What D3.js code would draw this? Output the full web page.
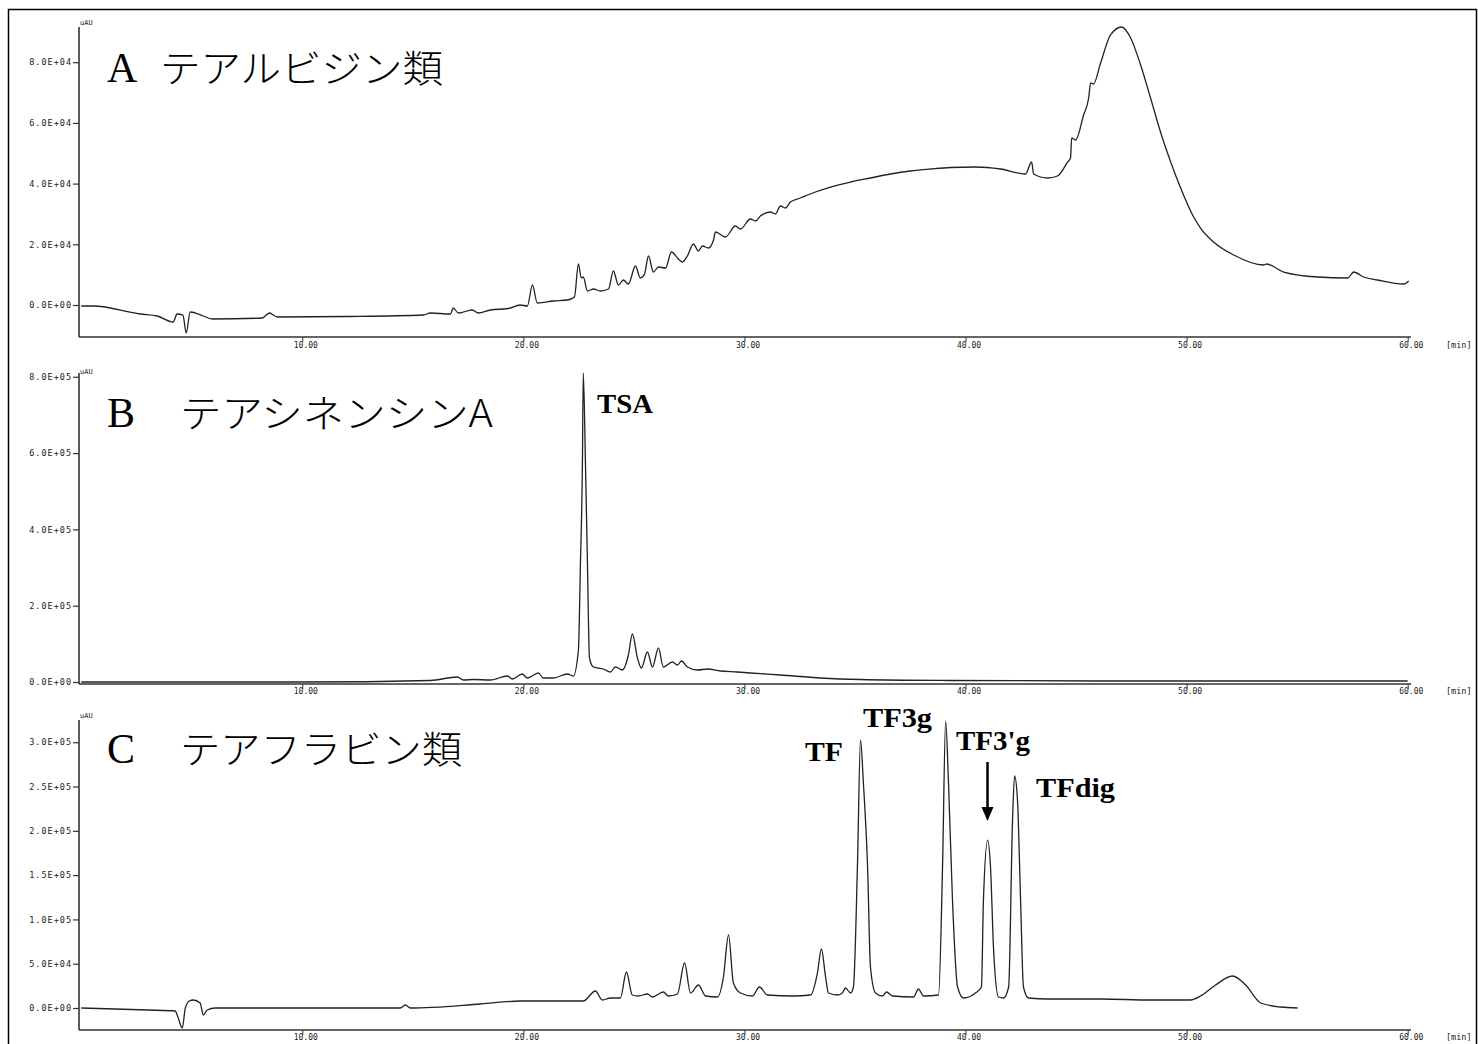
<!DOCTYPE html>
<html><head><meta charset="utf-8">
<script src="https://cdn.jsdelivr.net/npm/d3@7"></script>
<style>body{margin:0;background:#fff}</style>
</head><body>
<svg id="chart" width="1478" height="1044" xmlns="http://www.w3.org/2000/svg"></svg>
<script>
// ---------- DATA ----------
const xTicks = [10, 20, 30, 40, 50, 60];
const xTickLabels = ["10.00", "20.00", "30.00", "40.00", "50.00", "60.00"];
const yTicksA = [0, 20000, 40000, 60000, 80000];
const yTicksB = [0, 200000, 400000, 600000, 800000];
const yTicksC = [0, 50000, 100000, 150000, 200000, 250000, 300000];

const titleLetters = ["A", "B", "C"];
const titleTexts = ["テアルビジン類", "テアシネンシンA", "テアフラビン類"];

// Panel A: thearubigins (time in min, absorbance in uAU)
const timeA = [0.0,0.54,2.67,3.44,4.16,4.34,4.6,4.75,4.93,5.52,5.93,8.19,8.51,8.87,12.0,15.48,15.79,16.70,16.83,17.06,17.69,17.96,18.51,19.32,19.86,20.18,20.41,20.63,21.36,21.99,22.31,22.49,22.62,22.71,22.90,23.17,23.48,23.85,24.07,24.30,24.52,24.75,25.07,25.29,25.48,25.66,25.88,26.11,26.43,26.70,27.01,27.19,27.42,27.69,27.92,28.10,28.37,28.60,28.69,29.14,29.59,29.82,30.27,30.50,30.72,31.18,31.40,31.63,31.85,32.08,32.53,33.21,33.89,34.80,35.70,36.61,37.51,38.42,39.32,40.45,41.58,42.71,42.99,43.08,43.71,44.16,44.62,44.75,44.80,44.98,45.34,45.57,45.66,45.79,46.11,46.56,47.06,47.47,47.92,48.37,48.82,49.28,49.73,50.27,50.63,51.22,52.13,53.48,53.62,54.39,55.93,57.29,57.56,58.01,58.64,59.82,60.05];
const valueA = [-330,-330,-2965,-3625,-5600,-2965,-3300,-9226,-2306,-3625,-4615,-4285,-2636,-3955,-3790,-3300,-2636,-2965,-990,-2636,-1650,-2636,-1650,-1150,0,-330,6590,660,1320,1650,2640,13510,8900,9225,4610,5270,4610,5270,11200,6590,8240,6920,12850,8900,10200,16150,10870,12520,12190,17460,15160,14170,16150,20100,17790,19440,18780,21420,24050,22400,26030,25040,28340,27680,29330,30640,29990,32620,31960,33940,35260,37230,38880,40530,41850,43160,44150,44810,45310,45470,44810,43160,47120,43160,41850,42500,47120,48440,55030,54370,62600,68210,73150,72820,79740,88970,91600,87980,79080,68210,57000,47120,38550,29660,25370,20760,16480,13180,13510,10870,9230,8900,10870,9230,8240,6920,7910];

// Panel B: theasinensin A
const timeB = [0.0,5.38,10.0,15.79,17.01,17.29,17.74,18.51,19.28,19.50,19.95,20.18,20.68,20.90,21.36,21.99,22.26,22.49,22.58,22.67,22.71,22.81,22.90,22.99,23.17,23.62,23.94,24.16,24.48,24.75,24.93,25.16,25.34,25.61,25.84,26.11,26.33,26.74,26.97,27.15,27.42,27.87,28.33,28.91,29.68,30.27,31.63,33.44,35.25,39.32,46.11,60.0];
const valueB = [0,0,0,3930,13100,5240,6550,5240,15730,7860,20970,10480,23590,10480,10480,20970,15730,83870,306700,568800,809900,568800,306700,62900,39300,34070,26210,39300,31450,70770,125800,62900,36690,78630,39300,89110,39300,52420,44560,55040,39300,31450,34070,28830,26210,23590,18350,10480,6550,3930,2620,2620];

// Panel C: theaflavins
const timeC = [0.0,3.03,4.25,4.39,4.57,4.71,4.89,5.07,5.38,5.52,5.70,6.06,14.43,14.66,14.89,18.05,19.86,21.67,22.71,23.26,23.57,23.94,24.39,24.66,24.93,25.20,25.61,25.84,26.33,26.56,26.97,27.29,27.56,27.92,28.24,28.78,29.05,29.28,29.50,29.82,30.36,30.68,31.04,32.22,32.99,33.30,33.48,33.67,33.80,34.21,34.43,34.57,34.80,34.93,35.11,35.25,35.38,35.57,35.70,35.93,36.24,36.43,36.70,37.65,37.87,38.10,38.78,38.96,39.10,39.23,39.41,39.64,39.91,40.45,40.72,40.81,41.00,41.13,41.27,41.49,41.72,41.95,42.13,42.22,42.35,42.49,42.62,42.85,43.71,44.30,46.11,48.37,50.18,50.63,51.31,52.08,52.67,53.35,54.25,55.02];
const valueC = [0,-2257,-3386,-11290,-22570,0,7900,9030,5640,-7900,-2257,0,0,3386,0,4515,7900,7900,7900,19190,9030,11290,11290,40630,14670,13540,15800,12420,18060,13540,15800,50790,16930,25960,13540,12420,34990,82390,28220,16930,13540,23700,14670,13540,14670,39500,66590,34990,16930,14670,16930,22570,16930,23700,159100,302500,254000,159100,46280,16930,13540,18060,13540,12420,21450,13540,14670,159100,323900,254000,121900,23700,11290,16930,23700,121900,189600,159100,65460,12420,11290,23700,215600,261900,234800,121900,23700,11290,10160,10160,10160,9030,9030,13540,25960,36120,25960,5640,1130,0];

const peakLabelsB = ["TSA"];
const peakLabelsC = ["TF", "TF3g", "TF3'g", "TFdig"];

// ---------- DRAW ----------
const svg = d3.select("#chart");
const tickFont = "'DejaVu Sans Mono', monospace";
const ink = "#1a1a1a";

svg.append("rect").attr("x", 8.5).attr("y", 9.5).attr("width", 1468).attr("height", 1050)
  .attr("fill", "none").attr("stroke", "#000").attr("stroke-width", 1.5);

const x = d3.scaleLinear().domain([-0.1, 60.15]).range([79, 1411]);

function fmtE(v) {
  if (v === 0) return "0.0E+00";
  const e = Math.floor(Math.log10(Math.abs(v)) + 1e-9);
  const m = v / Math.pow(10, e);
  return m.toFixed(1) + "E+" + String(e).padStart(2, "0");
}

const panels = [
  {top: 27, bottom: 337, dom: [-10544, 91600], ticks: yTicksA, t: timeA, v: valueA, unitY: 25, labelY: 348},
  {top: 373, bottom: 684, dom: [-5243, 809900], ticks: yTicksB, t: timeB, v: valueB, unitY: 374, labelY: 694},
  {top: 720, bottom: 1030, dom: [-24830, 325100], ticks: yTicksC, t: timeC, v: valueC, unitY: 718, labelY: 1040}
];

panels.forEach((p, i) => {
  const y = d3.scaleLinear().domain(p.dom).range([p.bottom, p.top]);
  const g = svg.append("g");

  const ya = g.append("g").attr("transform", "translate(79,0)")
    .call(d3.axisLeft(y).tickValues(p.ticks).tickFormat(fmtE).tickSize(6).tickSizeOuter(0));
  ya.select(".domain").remove();
  ya.selectAll("line").attr("stroke", "#333").attr("stroke-width", 1.2);
  ya.selectAll("text").attr("font-family", tickFont).attr("font-size", 8.5)
    .attr("letter-spacing", "1px").attr("fill", ink).attr("x", -7).attr("dy", "0.32em");

  const xa = g.append("g").attr("transform", `translate(0,${p.bottom})`)
    .call(d3.axisBottom(x).tickValues(xTicks).tickFormat((d, j) => xTickLabels[j]).tickSize(5).tickSizeOuter(0));
  xa.select(".domain").remove();
  xa.selectAll("line").attr("stroke", "#333").attr("stroke-width", 1);
  xa.selectAll("text").attr("font-family", tickFont).attr("font-size", 8)
    .attr("fill", ink).attr("text-anchor", "start").attr("x", -9).attr("y", p.labelY - p.bottom).attr("dy", 0);

  g.append("line").attr("x1", 79).attr("x2", 79).attr("y1", p.top).attr("y2", p.bottom)
    .attr("stroke", "#333").attr("stroke-width", 1.6);
  g.append("line").attr("x1", 79).attr("x2", 1411).attr("y1", p.bottom).attr("y2", p.bottom)
    .attr("stroke", "#333").attr("stroke-width", 1.6);

  g.append("text").attr("x", 80).attr("y", p.unitY).text("uAU")
    .attr("font-family", tickFont).attr("font-size", 7).attr("fill", ink);
  g.append("text").attr("x", 1446).attr("y", p.labelY).text("[min]")
    .attr("font-family", tickFont).attr("font-size", 8.5).attr("fill", ink);

  const data = p.t.map((t, k) => [t, p.v[k]]);
  g.append("path").datum(data)
    .attr("fill", "none").attr("stroke", "#222").attr("stroke-width", 1.3)
    .attr("stroke-linejoin", "round")
    .attr("d", d3.line().x(d => x(d[0])).y(d => y(d[1])).curve(d3.curveMonotoneX));
});

// Titles
const titleCfg = [
  {lx: 107, ly: 82, jx: 160, jw: 283},
  {lx: 107, ly: 427, jx: 180, jw: 313},
  {lx: 107, ly: 763, jx: 180, jw: 282}
];
titleCfg.forEach((c, i) => {
  svg.append("text").attr("x", c.lx).attr("y", c.ly).text(titleLetters[i])
    .attr("font-family", "'Liberation Serif', serif").attr("font-size", 42).attr("fill", "#000");
  svg.append("text").attr("x", c.jx).attr("y", c.ly).text(titleTexts[i])
    .attr("font-family", "'Noto Sans CJK JP', sans-serif").attr("font-weight", 300)
    .attr("font-size", 38).attr("fill", "#000")
    .attr("textLength", c.jw).attr("lengthAdjust", "spacingAndGlyphs");
});

// Peak labels
const peakFont = "'Liberation Serif', serif";
const lblB = [{x: 597, y: 413, w: 56}];
const lblC = [{x: 805, y: 761, w: 38}, {x: 863, y: 727, w: 69}, {x: 956, y: 750, w: 74}, {x: 1036, y: 797, w: 79}];
peakLabelsB.forEach((s, i) => {
  svg.append("text").attr("x", lblB[i].x).attr("y", lblB[i].y).text(s)
    .attr("font-family", peakFont).attr("font-weight", "bold").attr("font-size", 28)
    .attr("textLength", lblB[i].w).attr("lengthAdjust", "spacingAndGlyphs");
});
peakLabelsC.forEach((s, i) => {
  svg.append("text").attr("x", lblC[i].x).attr("y", lblC[i].y).text(s)
    .attr("font-family", peakFont).attr("font-weight", "bold").attr("font-size", 28)
    .attr("textLength", lblC[i].w).attr("lengthAdjust", "spacingAndGlyphs");
});

// Arrow to TF3'g
svg.append("line").attr("x1", 987.5).attr("x2", 987.5).attr("y1", 762).attr("y2", 810)
  .attr("stroke", "#000").attr("stroke-width", 2.5);
svg.append("path").attr("d", "M981.5,807 L993.5,807 L987.5,821 Z").attr("fill", "#000");
</script>
</body></html>
